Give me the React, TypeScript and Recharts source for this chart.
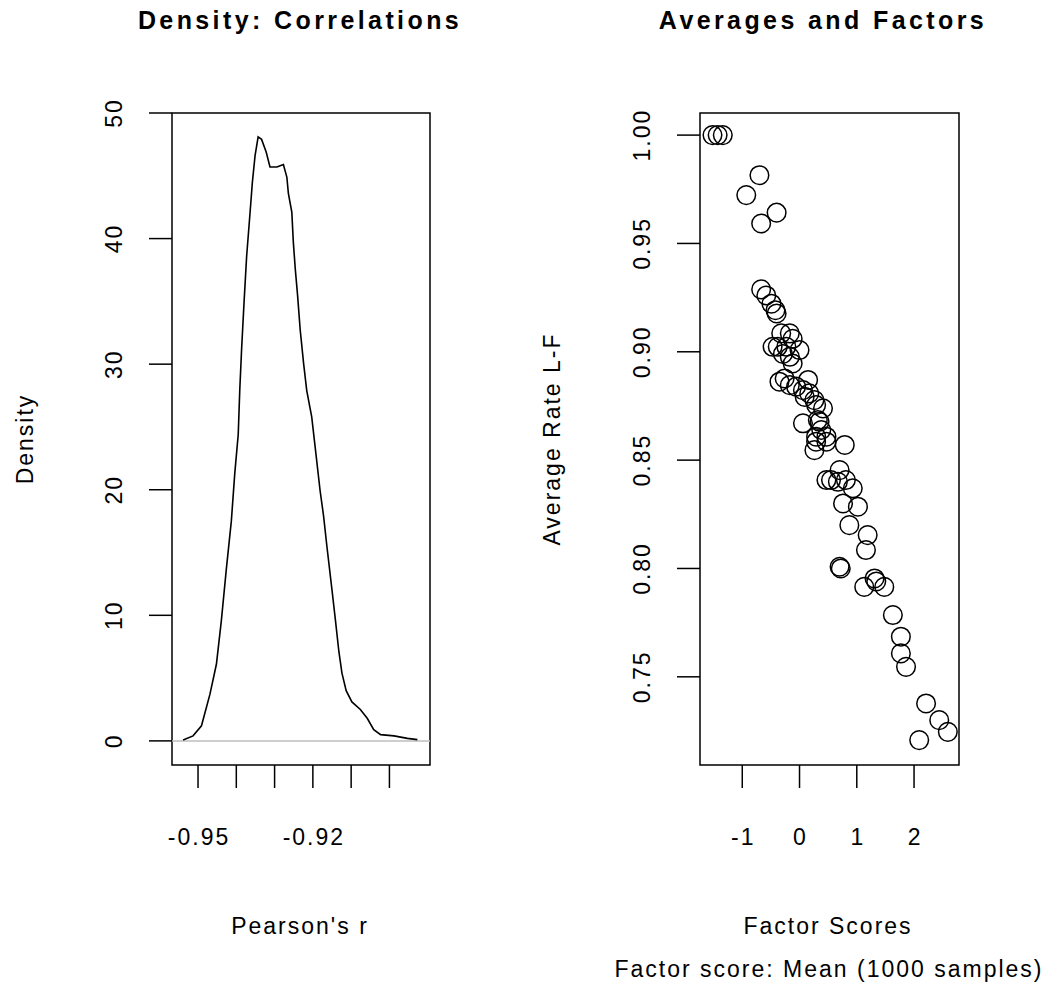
import React from 'react';
import {
  LineChart, Line, ScatterChart, Scatter, XAxis, YAxis, ReferenceArea, ReferenceLine
} from 'recharts';

// Density of Pearson's r
const densityX = [
  -0.9539, -0.9513, -0.9491, -0.9469, -0.9452, -0.9439, -0.9426, -0.9413, -0.9404, -0.9395,
  -0.9391, -0.9386, -0.9380, -0.9373, -0.9364, -0.9358, -0.9351, -0.9343, -0.9334, -0.9322,
  -0.9312, -0.9294, -0.9277, -0.9268, -0.9264, -0.9255, -0.9251, -0.9246, -0.9240, -0.9233,
  -0.9224, -0.9216, -0.9203, -0.9194, -0.9181, -0.9172, -0.9163, -0.9150, -0.9141, -0.9132,
  -0.9124, -0.9113, -0.9098, -0.9076, -0.9058, -0.9041, -0.9023, -0.8988, -0.8953, -0.8927
];
const densityY = [
  0.07, 0.4, 1.2, 3.7, 6.1, 9.6, 13.7, 17.5, 21.3, 24.4,
  27.9, 31.3, 34.8, 38.6, 42.1, 44.5, 46.6, 48.1, 47.9, 46.9,
  45.7, 45.7, 45.9, 44.9, 43.6, 42.1, 39.7, 37.6, 35.5, 32.7,
  30.0, 27.9, 25.8, 23.4, 19.9, 17.9, 15.4, 12.0, 9.6, 7.1,
  5.4, 4.0, 3.1, 2.5, 1.8, 0.9, 0.5, 0.4, 0.2, 0.1
];
const densityXTicks = [-0.95, -0.94, -0.93, -0.92, -0.91, -0.90];
const densityXLabels = [-0.95, -0.92];
const densityYTicks = [0, 10, 20, 30, 40, 50];

// Factor scores vs average rate (right panel)
const factorScores = [
  -1.52, -1.43, -1.34, -0.70, -0.93, -0.40, -0.67, -0.67, -0.58, -0.49,
  -0.42, -0.40, -0.32, -0.17, -0.12, -0.47, -0.38, -0.23, 0.00, -0.29,
  -0.17, -0.12, -0.35, -0.26, -0.17, -0.06, 0.06, 0.15, 0.17, 0.09,
  0.26, 0.29, 0.41, 0.06, 0.35, 0.32, 0.38, 0.29, 0.47, 0.29,
  0.26, 0.47, 0.79, 0.70, 0.47, 0.55, 0.67, 0.81, 0.93, 0.76,
  1.02, 0.87, 1.19, 1.16, 0.70, 0.72, 1.31, 1.34, 1.13, 1.48,
  1.63, 1.77, 1.77, 1.86, 2.21, 2.44, 2.59, 2.09
];
const avgRates = [
  1.000, 1.000, 1.000, 0.9815, 0.9723, 0.9642, 0.9592, 0.9288, 0.9260, 0.9222,
  0.9192, 0.9177, 0.9085, 0.9085, 0.9060, 0.9023, 0.9023, 0.9023, 0.9008, 0.8990,
  0.8977, 0.8946, 0.8862, 0.8877, 0.8846, 0.8839, 0.8823, 0.8870, 0.8808, 0.8792,
  0.8777, 0.8754, 0.8739, 0.8670, 0.8677, 0.8685, 0.8639, 0.8608, 0.8608, 0.8585,
  0.8546, 0.8585, 0.8570, 0.8454, 0.8408, 0.8408, 0.8400, 0.8408, 0.8370, 0.8300,
  0.8285, 0.8200, 0.8154, 0.8085, 0.8008, 0.8000, 0.7954, 0.7940, 0.7915, 0.7915,
  0.7785, 0.7685, 0.7608, 0.7546, 0.7377, 0.7300, 0.7246, 0.7208
];
const factorXTicks = [-1, 0, 1, 2];
const rateYTicks = [0.75, 0.80, 0.85, 0.90, 0.95, 1.00];

const FONT = '"Liberation Sans", Arial, Helvetica, sans-serif';
const FS = 23;
const LS = 2;

const densityData = densityX.map((x, i) => ({ x, y: densityY[i] }));
const scatterData = factorScores.map((x, i) => ({ x, y: avgRates[i] }));

const densityXDomain = [-0.9568, -0.8894];
const densityYDomain = [-1.92, 50.0];
const factorXDomain = [-1.738, 2.785];
const rateYDomain = [0.7093, 1.0102];

function XTick({ x, y, payload, labels, fmt }: any) {
  const v = payload.value;
  if (labels && !labels.some((l: number) => Math.abs(l - v) < 1e-9)) return <g />;
  return (
    <text x={x + LS / 2} y={y} dy="0.71em" textAnchor="middle" fill="#000"
      style={{ fontFamily: FONT, fontSize: FS, letterSpacing: LS }}>
      {fmt ? fmt(v) : v}
    </text>
  );
}

function YTick({ x, y, payload, fmt }: any) {
  return (
    <text x={x} y={y} textAnchor="middle" fill="#000" transform={`rotate(-90, ${x}, ${y})`}
      style={{ fontFamily: FONT, fontSize: FS, letterSpacing: LS }}>
      {fmt ? fmt(payload.value) : payload.value}
    </text>
  );
}

function Ring(props: any) {
  return <circle cx={props.cx} cy={props.cy} r={9.3} fill="none" stroke="#000" strokeWidth={1.5} />;
}

const txt: React.CSSProperties = {
  position: 'absolute', fontFamily: FONT, fontSize: FS, letterSpacing: LS, color: '#000',
  whiteSpace: 'nowrap', lineHeight: 1
};
const title: React.CSSProperties = { ...txt, fontWeight: 'bold', fontSize: 25, letterSpacing: 3.4 };

export default function App() {
  return (
    <div style={{ position: 'absolute', left: 0, top: 0, width: 1055, height: 990, background: '#fff', overflow: 'hidden' }}>
      {/* titles */}
      <div style={{ ...title, left: 300, top: 20, transform: 'translate(-50%, -50%)' }}>Density: Correlations</div>
      <div style={{ ...title, left: 823, top: 20, transform: 'translate(-50%, -50%)' }}>Averages and Factors</div>

      {/* axis titles */}
      <div style={{ ...txt, left: 25, top: 439, transform: 'translate(-50%, -50%) rotate(-90deg)' }}>Density</div>
      <div style={{ ...txt, left: 300, top: 926, transform: 'translate(-50%, -50%)' }}>Pearson's r</div>
      <div style={{ ...txt, left: 552, top: 439, transform: 'translate(-50%, -50%) rotate(-90deg)' }}>Average Rate L-F</div>
      <div style={{ ...txt, left: 828, top: 926, transform: 'translate(-50%, -50%)' }}>Factor Scores</div>
      <div style={{ ...txt, left: 829, top: 969, transform: 'translate(-50%, -50%)' }}>Factor score: Mean (1000 samples)</div>

      {/* Chart 1: density */}
      <div style={{ position: 'absolute', left: 0, top: 0 }}>
        <LineChart width={527} height={990} data={densityData}
          margin={{ top: 113, right: 97, bottom: 145, left: 92 }}>
          <XAxis dataKey="x" type="number" domain={densityXDomain} ticks={densityXTicks} allowDataOverflow
            height={80} axisLine={false} tickSize={23} tickMargin={41}
            tickLine={{ stroke: '#000', strokeWidth: 1.5 }}
            tick={<XTick labels={densityXLabels} fmt={(v: number) => v.toFixed(2)} />} interval={0} />
          <YAxis type="number" domain={densityYDomain} ticks={densityYTicks} allowDataOverflow
            width={80} axisLine={false} tickSize={23} tickMargin={27}
            tickLine={{ stroke: '#000', strokeWidth: 1.5 }} tick={<YTick />} interval={0} />
          <ReferenceLine y={0} stroke="#BEBEBE" strokeWidth={1.5} />
          <Line type="linear" dataKey="y" stroke="#000" strokeWidth={1.6} dot={false} isAnimationActive={false} />
          <ReferenceArea x1={densityXDomain[0]} x2={densityXDomain[1]} y1={densityYDomain[0]} y2={densityYDomain[1]}
            fill="none" fillOpacity={0} stroke="#000" strokeWidth={1.5} ifOverflow="visible" />
        </LineChart>
      </div>

      {/* Chart 2: factor scores scatter */}
      <div style={{ position: 'absolute', left: 527, top: 0 }}>
        <ScatterChart width={528} height={990}
          margin={{ top: 113, right: 96, bottom: 145, left: 93 }}>
          <XAxis dataKey="x" type="number" domain={factorXDomain} ticks={factorXTicks} allowDataOverflow
            height={80} axisLine={false} tickSize={23} tickMargin={41}
            tickLine={{ stroke: '#000', strokeWidth: 1.5 }} tick={<XTick />} interval={0} />
          <YAxis dataKey="y" type="number" domain={rateYDomain} ticks={rateYTicks} allowDataOverflow
            width={80} axisLine={false} tickSize={23} tickMargin={27}
            tickLine={{ stroke: '#000', strokeWidth: 1.5 }}
            tick={<YTick fmt={(v: number) => v.toFixed(2)} />} interval={0} />
          <Scatter data={scatterData} shape={<Ring />} isAnimationActive={false} />
          <ReferenceArea x1={factorXDomain[0]} x2={factorXDomain[1]} y1={rateYDomain[0]} y2={rateYDomain[1]}
            fill="none" fillOpacity={0} stroke="#000" strokeWidth={1.5} ifOverflow="visible" />
        </ScatterChart>
      </div>
    </div>
  );
}
